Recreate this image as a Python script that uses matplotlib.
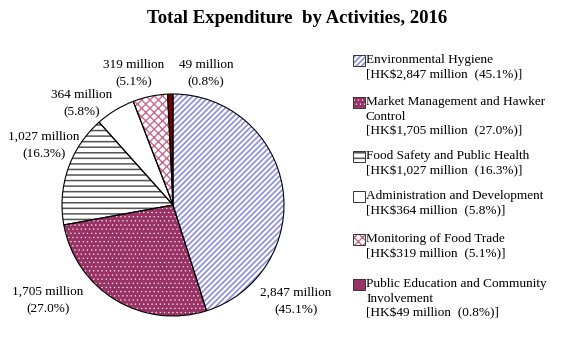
import matplotlib
matplotlib.use("Agg")
import matplotlib.pyplot as plt
from matplotlib.patches import Rectangle

plt.rcParams['font.family'] = ['Liberation Serif', 'DejaVu Serif']
plt.rcParams['hatch.linewidth'] = 1.2

# data
activities = ["Environmental Hygiene", "Market Management and Hawker\nControl",
              "Food Safety and Public Health", "Administration and Development",
              "Monitoring of Food Trade", "Public Education and Community\nInvolvement"]
spend = [2847, 1705, 1027, 364, 319, 49]
share = [45.1, 27.0, 16.3, 5.8, 5.1, 0.8]

# styles
faces = ["white", "#993366", "white", "white", "white", "#7a0000"]
hatch_cols = ["#8c8ce0", "#f6e6ee", "#555555", "white", "#c86a8c", "#7a0000"]
hatches = ["//////", "....", "---", None, "xxxx", None]
hatch_lw = [1.2, 0.4, 1.1, 1.0, 1.0, 1.0]
legend_faces = ["white", "#993366", "white", "white", "white", "#993366"]


def style(p, hc, ht, lw):
    p.set_edgecolor(hc)
    p.set_linewidth(0)
    if ht:
        p.set_hatch(ht)
        if hasattr(p, "set_hatch_linewidth"):
            p.set_hatch_linewidth(lw)
        else:
            p._hatch_linewidth = lw


fig = plt.figure(figsize=(5.76, 3.47), dpi=100)
ax = fig.add_axes([0, 0, 1, 1])

H = 347
cx, cy, r = 173, H - 205, 111

w1, _ = ax.pie(spend, startangle=90, counterclock=False, center=(cx, cy), radius=r,
               colors=faces, wedgeprops=dict(linewidth=0), frame=True)
for w, hc, ht, lw in zip(w1, hatch_cols, hatches, hatch_lw):
    style(w, hc, ht, lw)
w2, _ = ax.pie(spend, startangle=90, counterclock=False, center=(cx, cy), radius=r,
               wedgeprops=dict(fill=False, edgecolor="black", linewidth=0.8), frame=True)
ax.set_xlim(0, 576)
ax.set_ylim(0, 347)
ax.set_aspect('equal')
ax.axis('off')

# pie labels (pixel positions of the label centres)
label_pos = [(296, 293), (48, 292), (44, 137), (82, 95), (134, 65), (206, 65)]
for (lx, ly), v, p in zip(label_pos, spend, share):
    ax.text(lx, H - ly, f"{v:,} million", ha='center', va='center', fontsize=9.5)
    ax.text(lx, H - ly - 17, f"({p:.1f}%)", ha='center', va='center', fontsize=9.5)

# legend
leg_y = [61, 103, 157, 197, 240, 285]
for name, v, p, y, fc, hc, ht, lw in zip(activities, spend, share, leg_y, legend_faces,
                                          hatch_cols, hatches, hatch_lw):
    box = Rectangle((353, H - y - 5), 12, 11, facecolor=fc)
    style(box, hc if ht else fc, ht, lw)
    ax.add_patch(box)
    ax.add_patch(Rectangle((353, H - y - 5), 12, 11, fill=False,
                           edgecolor="#333333", linewidth=0.7))
    txt = f"{name}\n[HK${v:,} million  ({p:.1f}%)]"
    ax.text(366, H - y + 7, txt, ha='left', va='top', fontsize=9.5, linespacing=1.3)

ax.text(297, H - 18, "Total Expenditure  by Activities, 2016", ha='center', va='center',
        fontsize=13.5, fontweight='bold')

fig.savefig("out.png", dpi=100)
